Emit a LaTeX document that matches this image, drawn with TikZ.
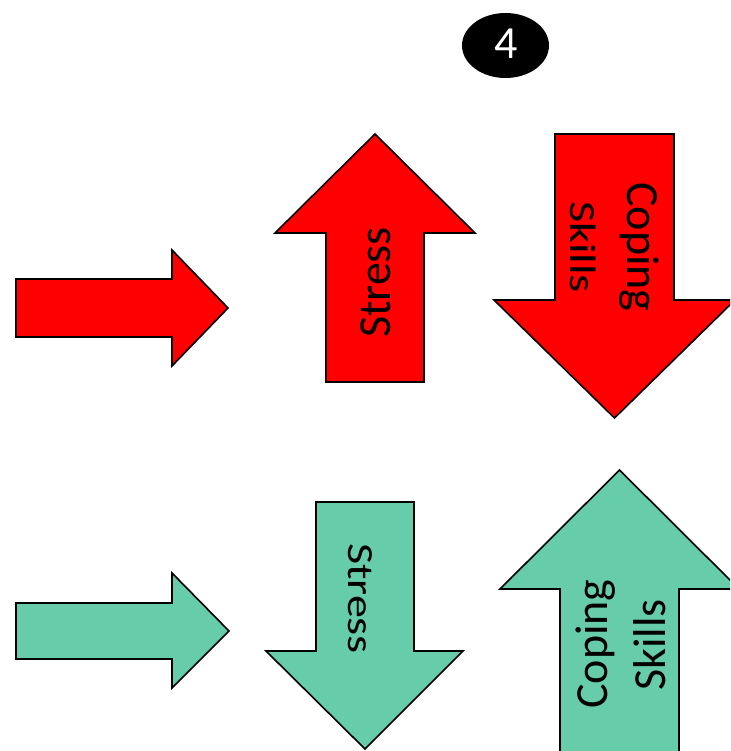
\documentclass[tikz,border=0pt]{standalone}
\usepackage{fontspec}
\setmainfont{Carlito}
\usepackage{graphicx}
\usetikzlibrary{shapes.geometric}
\definecolor{arrowred}{RGB}{255,0,0}
\definecolor{arrowgreen}{RGB}{102,204,170}
\tikzset{
  redarrow/.style={fill=arrowred, draw=black, line width=1.6pt, line join=miter},
  greenarrow/.style={fill=arrowgreen, draw=black, line width=1.6pt, line join=miter},
  lbl/.style={inner sep=0pt, anchor=base, font=\fontsize{46}{57}\selectfont, text=black}
}
\newcommand{\sqz}[1]{\scalebox{1}[0.8]{#1}}
\begin{document}
\begin{tikzpicture}[x=1pt,y=-1pt]
\useasboundingbox (0,0) rectangle (730,751);
\clip (0,0) rectangle (730,751);
% badge
\node[ellipse, fill=black, minimum width=87pt, minimum height=65pt, inner sep=0pt] (badge) at (505.5,45.5) {};
\node[lbl, text=white] (four) at (506,59) {4};
% red row
\draw[redarrow] (16,279) -- (172,279) -- (172,250) -- (228,308) -- (172,366) -- (172,337) -- (16,337) -- cycle;
\draw[redarrow] (375,134) -- (475,233) -- (424,233) -- (424,382) -- (326,382) -- (326,233) -- (275,233) -- cycle;
\draw[redarrow] (555,134) -- (674,134) -- (674,300) -- (735,300) -- (614.5,418) -- (494,300) -- (555,300) -- cycle;
\node[lbl, rotate=90] (rstress) at (390,282.5) {Stress};
\node[lbl, rotate=-90] (rcoping) at (627,247) {Coping};
\node[lbl, rotate=-90] (rskills) at (570,247) {\sqz{Skills}};
% green row
\draw[greenarrow] (16,603) -- (172,603) -- (172,573) -- (229,631) -- (172,688) -- (172,659) -- (16,659) -- cycle;
\draw[greenarrow] (316,502) -- (414,502) -- (414,651) -- (463,651) -- (365,749) -- (266,651) -- (316,651) -- cycle;
\draw[greenarrow] (619.5,470) -- (739,589) -- (679,589) -- (679,765) -- (560,765) -- (560,589) -- (500,589) -- cycle;
\node[lbl, rotate=-90] (gstress) at (348,598.5) {\sqz{Stress}};
\node[lbl, rotate=90] (gcoping) at (607,644) {Coping};
\node[lbl, rotate=90] (gskills) at (665,645) {Skills};
\end{tikzpicture}
\end{document}
